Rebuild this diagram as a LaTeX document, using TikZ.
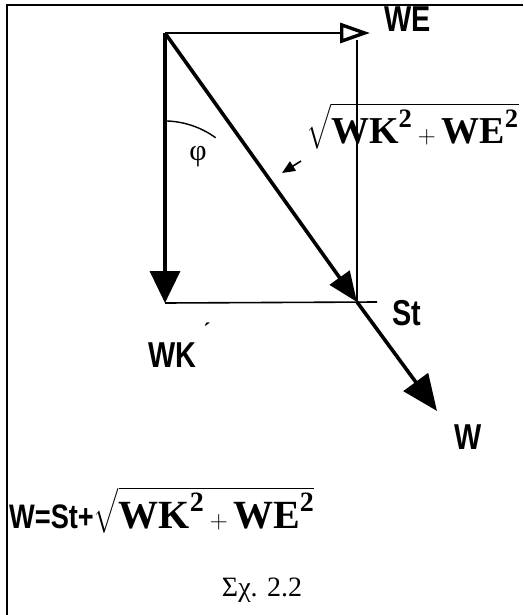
\documentclass[tikz,border=0pt]{standalone}
\usepackage{amsmath}
\usepackage{fontspec}
\setmainfont{Liberation Serif}
\newfontfamily\lblfont[FakeStretch=0.8]{Liberation Sans}
\usetikzlibrary{arrows.meta, calc}

\begin{document}
\begin{tikzpicture}[
  x=1pt, y=-1pt,
  lbl/.style={font=\lblfont\bfseries\fontsize{36}{38}\selectfont, inner sep=0pt},
  vec/.style={line width=3.6pt, -{Triangle[length=32pt, width=30pt]}},
  side/.style={line width=1.6pt},
  hollow/.style={line width=2.6pt, -{Triangle[open, length=30pt, width=20pt, line width=3.4pt]}},
]
  \useasboundingbox (0,0) rectangle (523,615);

  % --- frame ---
  \draw[line width=2.6pt] (7,615) -- (7,5) -- (523,5);

  % --- corner points ---
  \coordinate (O)  at (165,33);
  \coordinate (E)  at (370,33);
  \coordinate (K)  at (165,303);
  \coordinate (St) at (357,302);
  \coordinate (Wt) at (437,411);

  % --- rectangle sides ---
  \draw[side] (357,40) -- (St);
  \draw[side] (K) -- (377,302);

  % --- vectors ---
  \draw[hollow] (O) -- (E);
  \draw[vec] (O) -- (K);
  \draw[vec, -{Triangle[length=30pt, width=24pt]}] (O) -- (St);
  \draw[vec, -{Triangle[length=36pt, width=30pt]}] (St) -- (Wt);

  % --- angle ---
  \draw[line width=1.4pt] (167,121) arc[start angle=-88, end angle=-54, radius=88];
  \node (phi) at (198,157) {\fontsize{30}{32}\selectfont φ};

  % --- labels ---
  \node[lbl, anchor=west] (lWE) at (384,19) {WE};
  \node[lbl] (lSt) at (407,313) {St};
  \node[lbl] (lWK) at (172,355) {WK};
  \node[inner sep=0pt] (prime) at (207,333) {\fontsize{22}{22}\selectfont\textbf{\'{}}};
  \node[lbl] (lW) at (468,437) {W};

  \node[anchor=west, inner sep=0pt] (root) at (306,126)
    {\fontsize{38}{40}\selectfont $\sqrt{\textbf{WK}^{\textbf{2}}+\textbf{WE}^{\textbf{2}}}$};
  \coordinate (pt) at (301,161);
  \draw[line width=1.6pt, -{Triangle[length=13pt, width=11pt]}] (pt) -- (282,173);

  % --- formula and caption ---
  \node[anchor=west, inner sep=0pt] (eq) at (9,510)
    {\lblfont\bfseries\fontsize{34}{36}\selectfont W=St+\fontsize{40}{42}\selectfont
     \rmfamily$\sqrt{\textbf{WK}^{\textbf{2}}+\textbf{WE}^{\textbf{2}}}$};
  \node (cap) at (262,590) {\fontsize{28}{30}\selectfont Σχ. 2.2};
\end{tikzpicture}
\end{document}
